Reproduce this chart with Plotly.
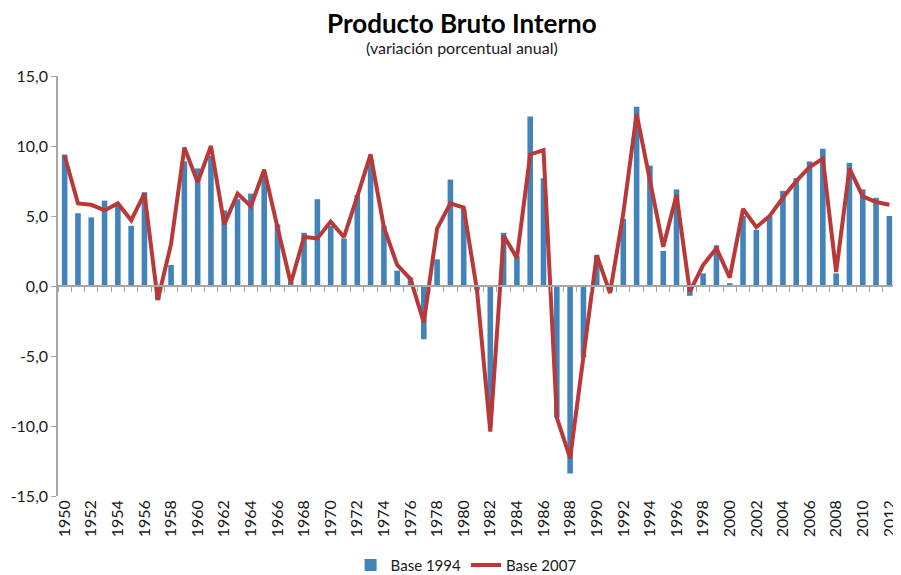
import plotly.graph_objects as go

years = list(range(1950, 2013))

base_1994 = [
    9.4, 5.2, 4.9, 6.1, 5.8, 4.3, 6.7, -1.0, 1.5, 8.9,
    8.4, 9.3, 5.4, 6.2, 6.6, 7.8, 4.4, 0.3, 3.8, 6.2,
    4.3, 3.4, 6.5, 9.0, 4.3, 1.1, 0.6, -3.8, 1.9, 7.6,
    5.5, -0.3, -9.3, 3.8, 2.1, 12.1, 7.7, -9.4, -13.4, -5.1,
    2.2, -0.4, 4.8, 12.8, 8.6, 2.5, 6.9, -0.7, 0.9, 2.9,
    0.2, 5.0, 4.0, 5.0, 6.8, 7.7, 8.9, 9.8, 0.9, 8.8,
    6.9, 6.3, 5.0,
]

base_2007 = [
    9.3, 5.9, 5.8, 5.4, 5.9, 4.7, 6.6, -1.0, 3.0, 9.9,
    7.4, 10.0, 4.4, 6.6, 5.7, 8.3, 4.2, 0.2, 3.5, 3.4,
    4.6, 3.5, 6.4, 9.4, 4.2, 1.5, 0.5, -2.6, 4.1, 5.9,
    5.6, -0.3, -10.4, 3.6, 2.0, 9.4, 9.7, -9.4, -12.3, -5.0,
    2.2, -0.5, 5.2, 12.3, 7.4, 2.8, 6.5, -0.4, 1.5, 2.7,
    0.6, 5.5, 4.2, 5.0, 6.3, 7.5, 8.5, 9.1, 1.0, 8.4,
    6.4, 6.0, 5.8,
]

label_years = list(range(1950, 2013, 2))
label_text = [str(y) for y in label_years]
y_ticks = [-15, -10, -5, 0, 5, 10, 15]
y_tick_text = ["-15,0", "-10,0", "-5,0", "0,0", "5,0", "10,0", "15,0"]

title_text = "Producto Bruto Interno"
subtitle_text = "(variación porcentual anual)"

BAR_COLOR = "#4284B9"
LINE_COLOR = "#B93838"
AXIS_COLOR = "#A6A6A6"
FONT = "Lato, 'Open Sans', sans-serif"

fig = go.Figure()
fig.add_trace(go.Bar(
    x=years, y=base_1994, name="Base 1994",
    marker=dict(color=BAR_COLOR, line=dict(width=0)), width=0.42,
))
fig.add_trace(go.Scatter(
    x=years, y=base_2007, name="Base 2007", mode="lines",
    line=dict(color=LINE_COLOR, width=4),
))
# helper trace so the zero-line axis is drawn
fig.add_trace(go.Scatter(
    x=[years[0]], y=[None], xaxis="x2", showlegend=False,
    hoverinfo="skip", mode="lines",
))

xr = [years[0] - 0.5, years[-1] + 0.5]
boundaries = [y - 0.5 for y in years] + [years[-1] + 0.5]

# page body has an 8px default margin, so the figure is sized/offset for it
fig.update_layout(
    width=893, height=567,
    margin=dict(l=50, r=5, t=68, b=79, autoexpand=False),
    paper_bgcolor="white", plot_bgcolor="white",
    font=dict(family=FONT, size=14, color="#1A1A1A"),
    showlegend=True,
    legend=dict(orientation="h", x=0.487, xanchor="center", y=-0.165,
                yanchor="middle", font=dict(size=15), itemwidth=30,
                tracegroupgap=0),
    bargap=0.5,
    xaxis=dict(
        range=xr, tickmode="array", tickvals=label_years, ticktext=label_text,
        tickangle=-90, showline=False, ticks="", zeroline=False,
        showgrid=False, tickfont=dict(size=16), automargin=False,
    ),
    xaxis2=dict(
        overlaying="x", anchor="free", position=0.5, side="bottom",
        range=xr, tickmode="array", tickvals=boundaries,
        showticklabels=False, ticks="outside", ticklen=5,
        tickcolor=AXIS_COLOR, showline=True, linecolor=AXIS_COLOR,
        linewidth=1.5, showgrid=False, zeroline=False, automargin=False,
    ),
    yaxis=dict(
        range=[-15, 15], tickmode="array", tickvals=y_ticks,
        ticktext=y_tick_text, showline=True, linecolor=AXIS_COLOR,
        linewidth=1.5, ticks="outside", ticklen=5, tickcolor=AXIS_COLOR,
        showgrid=False, zeroline=False, tickfont=dict(size=16),
        automargin=False,
    ),
    annotations=[
        dict(text="<b>" + title_text + "</b>", xref="paper", yref="paper",
             x=0.482, y=1.0 + (68 - 15) / 420, xanchor="center",
             yanchor="middle", showarrow=False,
             font=dict(size=26, color="#000000", family=FONT)),
        dict(text=subtitle_text, xref="paper", yref="paper",
             x=0.482, y=1.0 + (68 - 39) / 420, xanchor="center",
             yanchor="middle", showarrow=False,
             font=dict(size=16, color="#1A1A1A", family=FONT)),
    ],
)

fig.write_html("out.html")
